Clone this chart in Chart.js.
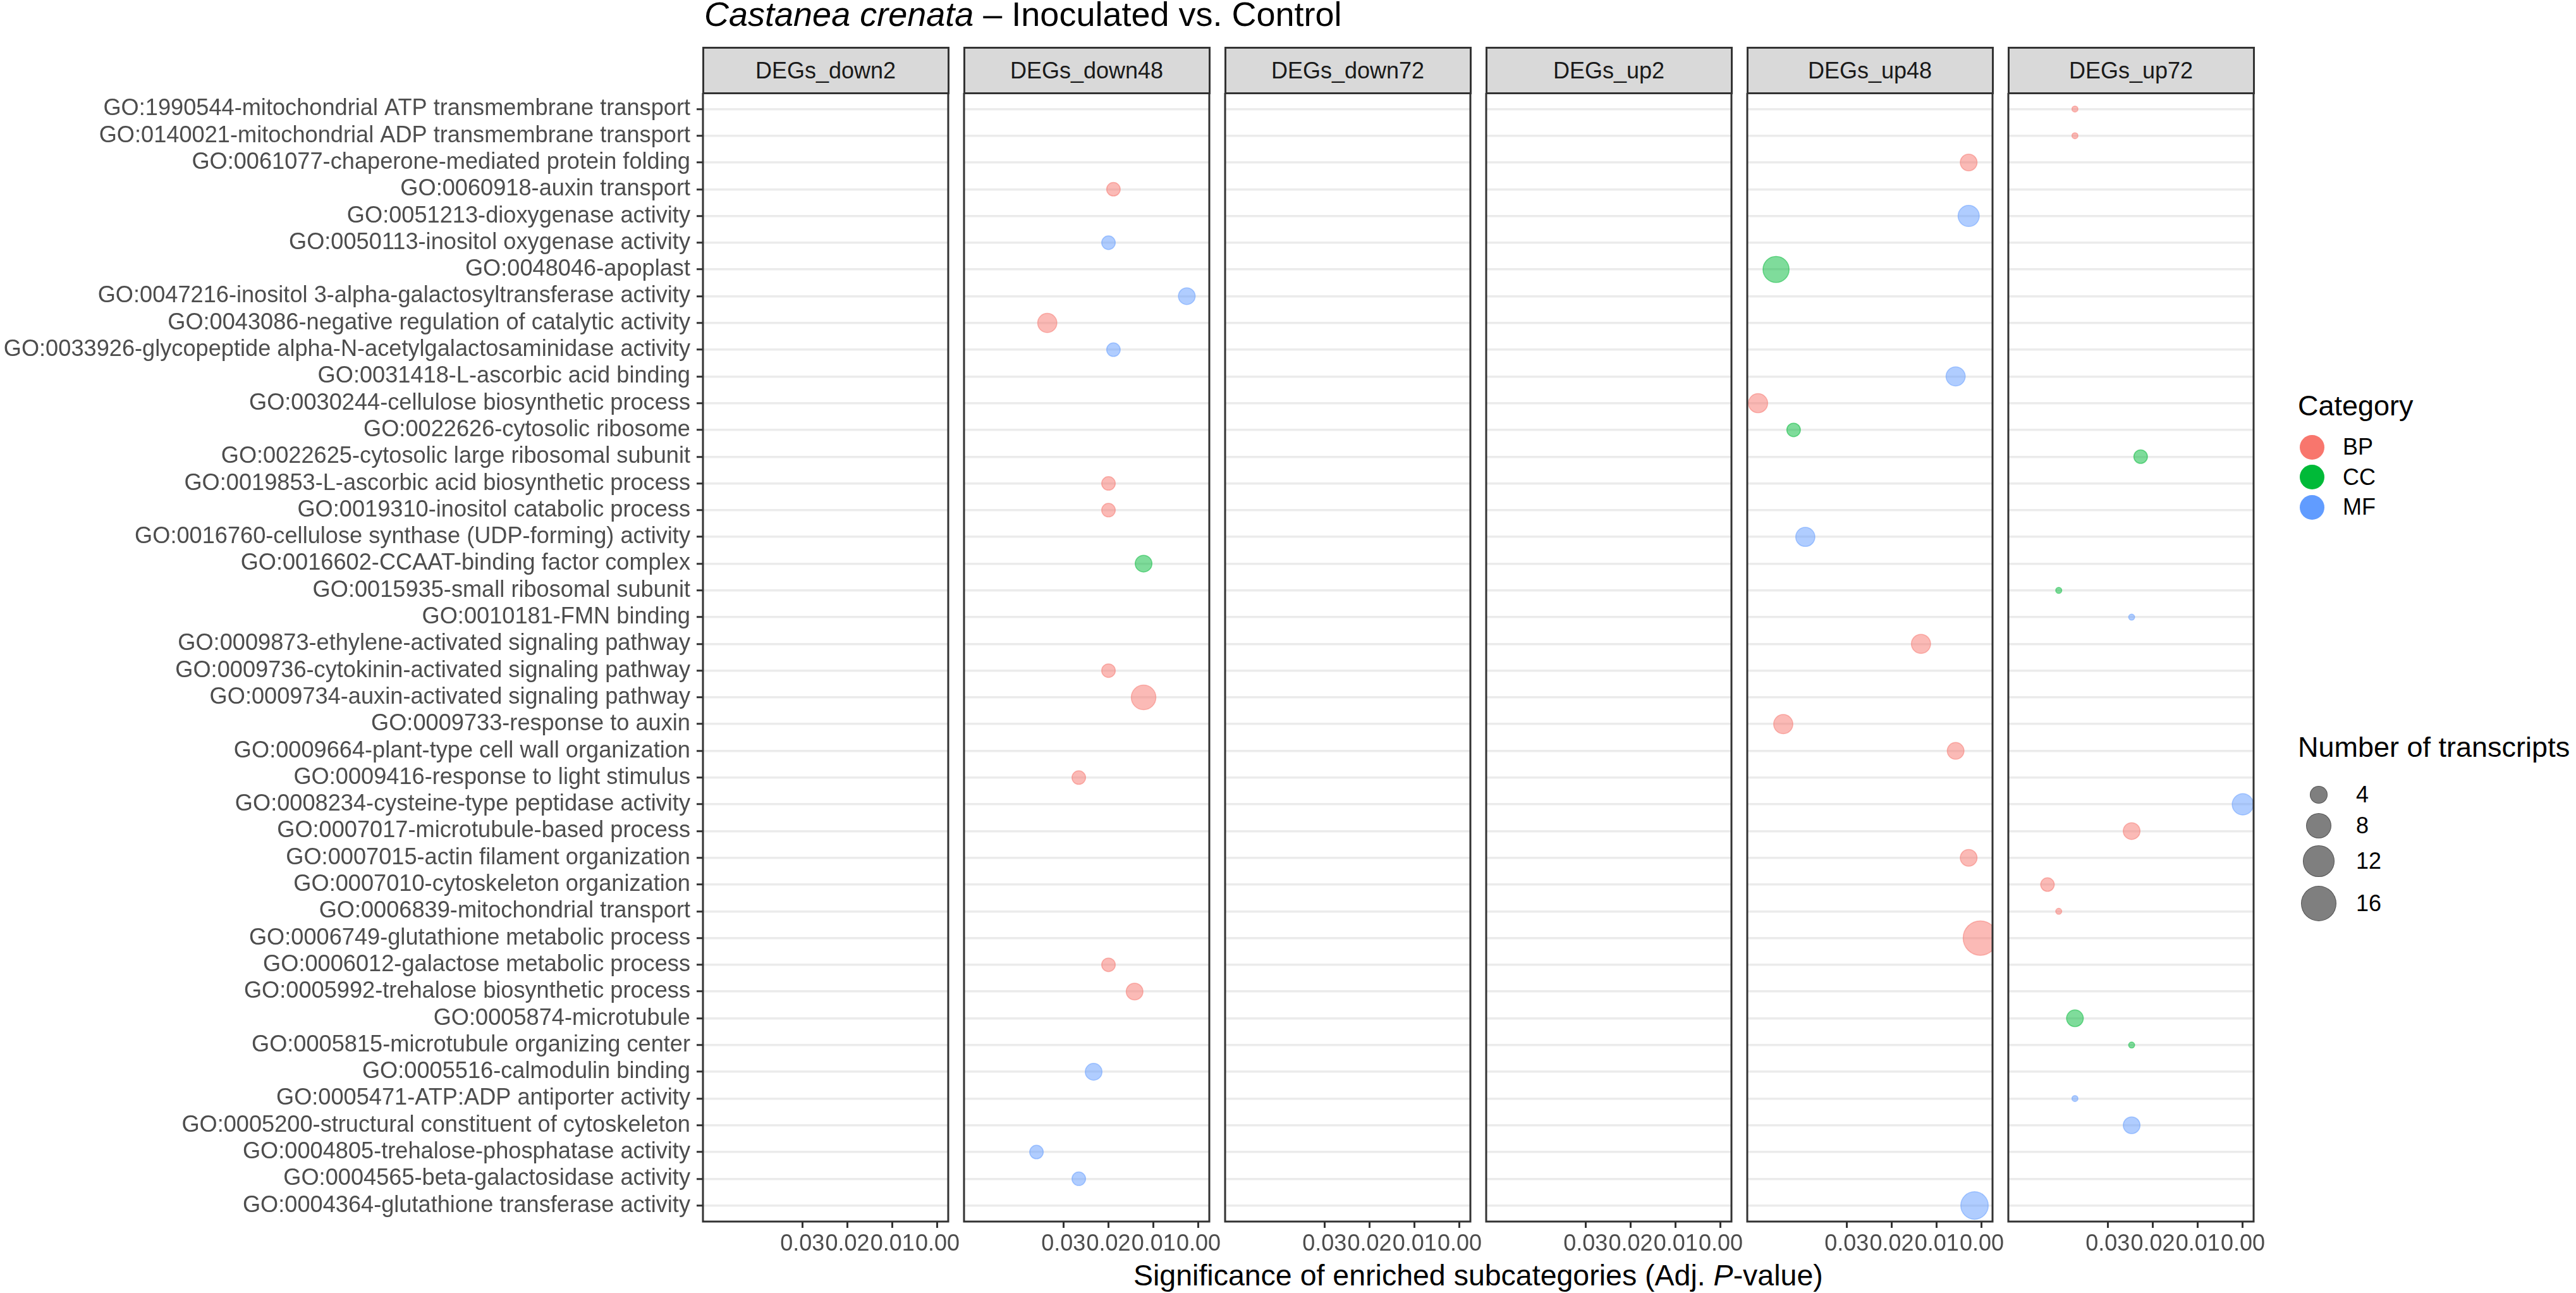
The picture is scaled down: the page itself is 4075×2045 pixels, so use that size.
<!DOCTYPE html>
<html>
<head>
<meta charset="utf-8">
<script src="https://cdn.jsdelivr.net/npm/chart.js@4.4.1/dist/chart.umd.min.js"></script>
<style>
  html, body { margin: 0; padding: 0; background: #fff; }
  body {
    width: 4075px; height: 2045px; position: relative; overflow: hidden;
    font-family: "Liberation Sans", Arial, sans-serif;
  }
  .abs { position: absolute; white-space: nowrap; }
  .strip {
    position: absolute; box-sizing: border-box; background: #D9D9D9;
    border: 3px solid #333333; display: flex; align-items: center; justify-content: center;
    font-size: 36px; color: #1A1A1A;
  }
  canvas { position: absolute; }
  .dot { position: absolute; border-radius: 50%; box-sizing: border-box; }
</style>
</head>
<body>
<div class="abs" style="left:1114px; top:-5px; font-size:54px; line-height:54px; color:#000;">
  <i>Castanea crenata</i> – Inoculated vs. Control
</div>
<div class="abs" id="xtitle" style="top:1994px; font-size:46.5px; line-height:46px; color:#000;">
  Significance of enriched subcategories (Adj. <i>P</i>-value)
</div>
<div id="legend"></div>

<script>
// ---- data ----
const panelNames = ['DEGs_down2', 'DEGs_down48', 'DEGs_down72', 'DEGs_up2', 'DEGs_up48', 'DEGs_up72'];

const goTerms = [
  'GO:1990544-mitochondrial ATP transmembrane transport',
  'GO:0140021-mitochondrial ADP transmembrane transport',
  'GO:0061077-chaperone-mediated protein folding',
  'GO:0060918-auxin transport',
  'GO:0051213-dioxygenase activity',
  'GO:0050113-inositol oxygenase activity',
  'GO:0048046-apoplast',
  'GO:0047216-inositol 3-alpha-galactosyltransferase activity',
  'GO:0043086-negative regulation of catalytic activity',
  'GO:0033926-glycopeptide alpha-N-acetylgalactosaminidase activity',
  'GO:0031418-L-ascorbic acid binding',
  'GO:0030244-cellulose biosynthetic process',
  'GO:0022626-cytosolic ribosome',
  'GO:0022625-cytosolic large ribosomal subunit',
  'GO:0019853-L-ascorbic acid biosynthetic process',
  'GO:0019310-inositol catabolic process',
  'GO:0016760-cellulose synthase (UDP-forming) activity',
  'GO:0016602-CCAAT-binding factor complex',
  'GO:0015935-small ribosomal subunit',
  'GO:0010181-FMN binding',
  'GO:0009873-ethylene-activated signaling pathway',
  'GO:0009736-cytokinin-activated signaling pathway',
  'GO:0009734-auxin-activated signaling pathway',
  'GO:0009733-response to auxin',
  'GO:0009664-plant-type cell wall organization',
  'GO:0009416-response to light stimulus',
  'GO:0008234-cysteine-type peptidase activity',
  'GO:0007017-microtubule-based process',
  'GO:0007015-actin filament organization',
  'GO:0007010-cytoskeleton organization',
  'GO:0006839-mitochondrial transport',
  'GO:0006749-glutathione metabolic process',
  'GO:0006012-galactose metabolic process',
  'GO:0005992-trehalose biosynthetic process',
  'GO:0005874-microtubule',
  'GO:0005815-microtubule organizing center',
  'GO:0005516-calmodulin binding',
  'GO:0005471-ATP:ADP antiporter activity',
  'GO:0005200-structural constituent of cytoskeleton',
  'GO:0004805-trehalose-phosphatase activity',
  'GO:0004565-beta-galactosidase activity',
  'GO:0004364-glutathione transferase activity'
];

const goCategory = [
  'BP', 'BP', 'BP', 'BP', 'MF', 'MF', 'CC', 'MF', 'BP', 'MF',
  'MF', 'BP', 'CC', 'CC', 'BP', 'BP', 'MF', 'CC', 'CC', 'MF',
  'BP', 'BP', 'BP', 'BP', 'BP', 'BP', 'MF', 'BP', 'BP', 'BP',
  'BP', 'BP', 'BP', 'BP', 'CC', 'CC', 'MF', 'MF', 'MF', 'MF',
  'MF', 'MF'
];

const categoryNames = ['BP', 'CC', 'MF'];
const sizeBreaks = [4, 8, 12, 16];
const xTickValues = [0.03, 0.02, 0.01, 0.00];

// empty panels
const down2Terms = [], down2Padj = [], down2Count = [];
const down72Terms = [], down72Padj = [], down72Count = [];
const up2Terms = [], up2Padj = [], up2Count = [];

const down48Terms = ['GO:0060918', 'GO:0050113', 'GO:0047216', 'GO:0043086', 'GO:0033926', 'GO:0019853',
  'GO:0019310', 'GO:0016602', 'GO:0009736', 'GO:0009734', 'GO:0009416', 'GO:0006012',
  'GO:0005992', 'GO:0005516', 'GO:0004805', 'GO:0004565'];
const down48Padj = [0.0189, 0.0200, 0.0026, 0.0336, 0.0189, 0.0200,
  0.0200, 0.0122, 0.0200, 0.0122, 0.0266, 0.0200,
  0.0142, 0.0233, 0.0360, 0.0266];
const down48Count = [3, 3, 4, 5, 3, 3, 3, 4, 3, 8, 3, 3, 4, 4, 3, 3];

const up48Terms = ['GO:0061077', 'GO:0051213', 'GO:0048046', 'GO:0031418', 'GO:0030244', 'GO:0022626',
  'GO:0016760', 'GO:0009873', 'GO:0009733', 'GO:0009664', 'GO:0007015', 'GO:0006749', 'GO:0004364'];
const up48Padj = [0.0029, 0.0029, 0.0457, 0.0058, 0.0497, 0.0418,
  0.0392, 0.0135, 0.0441, 0.0058, 0.0029, 0.0003, 0.0016];
const up48Count = [4, 6, 9, 5, 5, 3, 5, 5, 5, 4, 4, 16, 10];

const up72Terms = ['GO:1990544', 'GO:0140021', 'GO:0022625', 'GO:0015935', 'GO:0010181', 'GO:0008234',
  'GO:0007017', 'GO:0007010', 'GO:0006839', 'GO:0005874', 'GO:0005815', 'GO:0005471', 'GO:0005200'];
const up72Padj = [0.0373, 0.0373, 0.0227, 0.0409, 0.0247, 0.0000,
  0.0247, 0.0434, 0.0409, 0.0373, 0.0247, 0.0373, 0.0247];
const up72Count = [2, 2, 3, 2, 2, 6, 4, 3, 2, 4, 2, 2, 4];

const panelSeries = [
  [down2Terms, down2Padj, down2Count],
  [down48Terms, down48Padj, down48Count],
  [down72Terms, down72Padj, down72Count],
  [up2Terms, up2Padj, up2Count],
  [up48Terms, up48Padj, up48Count],
  [up72Terms, up72Padj, up72Count]
];

// ---- look ----
const CAT_COLOR = { BP: '248, 118, 109', CC: '0, 186, 56', MF: '97, 156, 255' };
const FONT = '"Liberation Sans", Arial, sans-serif';
const PANEL_X0 = 1112, PANEL_STEP = 413, PANEL_W = 388;
const PANEL_TOP = 147, PANEL_H = 1785, XAXIS_H = 70;
const PAD = 3, PAD_R = 45;   // right pad leaves room for the "0.00" label
const X_MIN = -0.0024, X_MAX = 0.0521;
const N_MIN = 2, N_MAX = 16, D_MIN = 11, D_MAX = 56;

function dotDiameter(n) {
  const t = Math.max(0, (n - N_MIN) / (N_MAX - N_MIN));
  return D_MIN + (D_MAX - D_MIN) * Math.sqrt(t);
}

function rowOf(id) {
  return goTerms.findIndex(t => t.startsWith(id + '-')) + 1;
}

const panelBorder = {
  id: 'panelBorder',
  afterDraw(chart) {
    const { ctx, chartArea: a } = chart;
    ctx.save();
    ctx.strokeStyle = '#333333';
    ctx.lineWidth = 3;
    ctx.strokeRect(a.left, a.top, a.right - a.left, a.bottom - a.top);
    ctx.restore();
  }
};

function buildPanel(i) {
  const first = i === 0;
  const left = PANEL_X0 + PANEL_STEP * i;
  const [terms, padj, count] = panelSeries[i];

  // strip header
  const strip = document.createElement('div');
  strip.className = 'strip';
  strip.textContent = panelNames[i];
  Object.assign(strip.style, {
    left: (left - 1.5) + 'px', top: '74px',
    width: (PANEL_W + 3) + 'px', height: (PANEL_TOP - 74 + 2) + 'px'
  });
  document.body.appendChild(strip);

  const canvas = document.createElement('canvas');
  const cLeft = first ? 0 : left - PAD;
  const cW = first ? left + PANEL_W + PAD_R : PANEL_W + PAD + PAD_R;
  const cH = PANEL_H + XAXIS_H;
  canvas.width = cW; canvas.height = cH;
  Object.assign(canvas.style, { left: cLeft + 'px', top: PANEL_TOP + 'px', width: cW + 'px', height: cH + 'px' });
  document.body.appendChild(canvas);

  const points = terms.map((id, k) => ({ x: padj[k], y: rowOf(id), n: count[k], cat: goCategory[rowOf(id) - 1] }));

  new Chart(canvas, {
    type: 'scatter',
    data: {
      datasets: [{
        data: points,
        clip: 0,
        pointRadius: ctx => ctx.raw ? dotDiameter(ctx.raw.n) / 2 - 0.75 : 0,
        pointHoverRadius: ctx => ctx.raw ? dotDiameter(ctx.raw.n) / 2 - 0.75 : 0,
        backgroundColor: ctx => ctx.raw ? `rgba(${CAT_COLOR[ctx.raw.cat]}, 0.5)` : 'transparent',
        borderColor: ctx => ctx.raw ? `rgba(${CAT_COLOR[ctx.raw.cat]}, 0.5)` : 'transparent',
        borderWidth: 1.5
      }]
    },
    options: {
      responsive: false,
      animation: false,
      events: [],
      layout: { autoPadding: false, padding: { left: first ? 0 : PAD, right: PAD_R, top: 0, bottom: 0 } },
      plugins: { legend: { display: false }, tooltip: { enabled: false } },
      scales: {
        x: {
          type: 'linear', reverse: true, min: X_MIN, max: X_MAX,
          afterBuildTicks: s => { s.ticks = xTickValues.map(v => ({ value: v })); },
          afterFit: s => { s.height = XAXIS_H; s.paddingLeft = 0; s.paddingRight = 0; },
          ticks: {
            autoSkip: false, maxRotation: 0, minRotation: 0, padding: 4,
            color: '#4D4D4D', font: { family: FONT, size: 36 },
            callback: v => Number(v).toFixed(2)
          },
          grid: { drawOnChartArea: false, drawTicks: true, tickLength: 10, tickWidth: 3, tickColor: '#333333' },
          border: { display: false }
        },
        y: {
          type: 'linear', reverse: true, min: 0.4, max: goTerms.length + 0.6,
          afterBuildTicks: s => { s.ticks = goTerms.map((_, k) => ({ value: k + 1 })); },
          afterFit: s => { s.width = first ? PANEL_X0 : 0; s.paddingTop = 0; s.paddingBottom = 0; },
          ticks: {
            display: first, autoSkip: false, padding: 10,
            color: '#4D4D4D', font: { family: FONT, size: 36.2 },
            callback: v => goTerms[v - 1]
          },
          grid: {
            color: '#EBEBEB', lineWidth: 3.5,
            drawTicks: first, tickLength: 10, tickWidth: 3, tickColor: '#333333'
          },
          border: { display: false }
        }
      }
    },
    plugins: [panelBorder]
  });
}

panelNames.forEach((_, i) => buildPanel(i));

// x axis title centred over the panels
const xt = document.getElementById('xtitle');
const panelsMid = (PANEL_X0 + PANEL_X0 + PANEL_STEP * 5 + PANEL_W) / 2;
xt.style.left = (panelsMid - xt.offsetWidth / 2) + 'px';

// ---- legend ----
const legend = document.getElementById('legend');
function addText(txt, left, cy, size) {
  const d = document.createElement('div');
  d.className = 'abs';
  d.textContent = txt;
  Object.assign(d.style, { left: left + 'px', top: (cy - size / 2) + 'px', fontSize: size + 'px', lineHeight: size + 'px', color: '#000' });
  legend.appendChild(d);
}
function addDot(cx, cy, diam, fill, stroke) {
  const d = document.createElement('div');
  d.className = 'dot';
  Object.assign(d.style, {
    left: (cx - diam / 2) + 'px', top: (cy - diam / 2) + 'px', width: diam + 'px', height: diam + 'px',
    background: fill, border: stroke ? '1.5px solid ' + stroke : 'none'
  });
  legend.appendChild(d);
}

addText('Category', 3635, 641, 45);
categoryNames.forEach((c, k) => {
  const cy = 707 + k * 47.5;
  addDot(3657, cy, 39, `rgb(${CAT_COLOR[c]})`);
  addText(c, 3706, cy, 36);
});

addText('Number of transcripts', 3635, 1181, 45);
const sizeRowY = [1257, 1306, 1362, 1429];
sizeBreaks.forEach((n, k) => {
  addDot(3668, sizeRowY[k], dotDiameter(n), 'rgba(0,0,0,0.5)', 'rgba(0,0,0,0.35)');
  addText(String(n), 3727, sizeRowY[k], 36);
});
</script>
</body>
</html>
